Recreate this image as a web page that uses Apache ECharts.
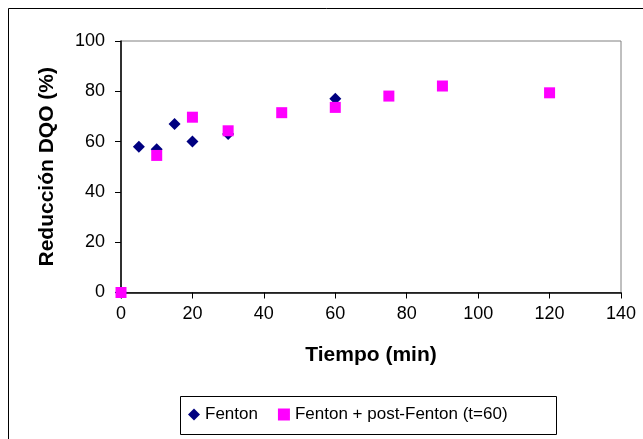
<!DOCTYPE html>
<html>
<head>
<meta charset="utf-8">
<script src="https://cdn.jsdelivr.net/npm/echarts@6/dist/echarts.min.js"></script>
<style>
html,body{margin:0;padding:0;background:#fff;}
#chart{width:643px;height:439px;}
</style>
</head>
<body>
<div id="chart"></div>
<script>
var fentonX = [0, 5, 10, 15, 20, 30, 60];
var fentonY = [0, 58, 57, 67, 60, 63, 77];
var postX = [0, 10, 20, 30, 45, 60, 75, 90, 120];
var postY = [0, 54.5, 69.7, 64.3, 71.5, 73.6, 78.1, 82.1, 79.4];
var xTicks = [0, 140, 20];
var yTicks = [0, 100, 20];
var seriesNames = ['Fenton', 'Fenton + post-Fenton (t=60)'];

function pairs(xs, ys) { return xs.map(function (x, i) { return [x, ys[i]]; }); }

var chart = echarts.init(document.getElementById('chart'), null, {renderer: 'canvas'});
var font = 'Liberation Sans, Arial, sans-serif';
chart.setOption({
  animation: false,
  backgroundColor: '#fff',
  graphic: [{
    type: 'rect', shape: {x: 8.5, y: 8.5, width: 700, height: 500},
    style: {fill: 'none', stroke: '#000', lineWidth: 1}, silent: true, z: -10
  }, {
    type: 'rect', shape: {x: 180.5, y: 396.5, width: 376, height: 38},
    style: {fill: '#fff', stroke: '#000', lineWidth: 1}, silent: true, z: -5
  }],
  grid: {left: 121, right: 22, top: 41, bottom: 146.5, show: true, borderColor: '#808080', borderWidth: 1, backgroundColor: 'transparent'},
  xAxis: {
    type: 'value', min: xTicks[0], max: xTicks[1], interval: xTicks[2],
    name: 'Tiempo (min)', nameLocation: 'middle', nameGap: 52,
    nameTextStyle: {fontFamily: font, fontWeight: 'bold', fontSize: 21, color: '#000'},
    axisLine: {show: true, lineStyle: {color: '#000', width: 1.5}},
    axisTick: {show: true, length: 6, lineStyle: {color: '#000'}},
    axisLabel: {fontFamily: font, fontSize: 18, color: '#000', margin: 13},
    splitLine: {show: false}
  },
  yAxis: {
    type: 'value', min: yTicks[0], max: yTicks[1], interval: yTicks[2],
    name: 'Reducción DQO (%)', nameLocation: 'middle', nameGap: 63,
    nameTextStyle: {fontFamily: font, fontWeight: 'bold', fontSize: 21, color: '#000'},
    axisLine: {show: true, lineStyle: {color: '#000', width: 1.5}},
    axisTick: {show: true, length: 6, lineStyle: {color: '#000'}},
    axisLabel: {fontFamily: font, fontSize: 18, color: '#000', margin: 16},
    splitLine: {show: false}
  },
  legend: {
    left: 180, top: 396, padding: [10, 8], itemGap: 20,
    itemWidth: 12, itemHeight: 12,
    borderWidth: 0,
    textStyle: {fontFamily: font, fontSize: 17, color: '#000'},
    data: [{name: seriesNames[0], icon: 'diamond'},
           {name: seriesNames[1], icon: 'rect'}]
  },
  series: [{
    name: seriesNames[0], type: 'scatter', symbol: 'diamond', symbolSize: 12,
    itemStyle: {color: '#000080', opacity: 1}, data: pairs(fentonX, fentonY), z: 2
  }, {
    name: seriesNames[1], type: 'scatter', symbol: 'rect', symbolSize: 11,
    itemStyle: {color: '#FF00FF', opacity: 1}, data: pairs(postX, postY), z: 3
  }]
});
</script>
</body>
</html>
